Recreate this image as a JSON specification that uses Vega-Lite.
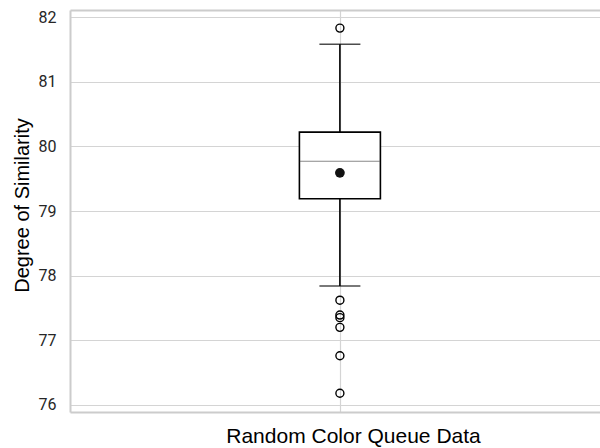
{
  "$schema": "https://vega.github.io/schema/vega-lite/v6.json",
  "autosize": {"type": "none"},
  "padding": {"left": 70, "top": 10, "right": 0, "bottom": 36},
  "width": 530,
  "height": 402,
  "background": "white",
  "config": {
    "view": {"stroke": null},
    "axis": {
      "gridColor": "#d4d4d4",
      "gridWidth": 1.2,
      "domainColor": "#cccccc",
      "domainWidth": 2,
      "ticks": false,
      "titleFont": "Liberation Sans",
      "titleFontWeight": "normal",
      "titleColor": "#000000",
      "labelFont": "Roboto",
      "labelFontSize": 16,
      "labelColor": "#262626"
    }
  },
  "datasets": {
    "summary": [
      {"group": "Random Color Queue Data", "lower": 77.84, "q1": 79.19, "median": 79.77, "q3": 80.22, "upper": 81.58, "mean": 79.59}
    ],
    "outliers": [
      {"group": "Random Color Queue Data", "value": 81.83},
      {"group": "Random Color Queue Data", "value": 77.62},
      {"group": "Random Color Queue Data", "value": 77.39},
      {"group": "Random Color Queue Data", "value": 77.35},
      {"group": "Random Color Queue Data", "value": 77.2},
      {"group": "Random Color Queue Data", "value": 76.76},
      {"group": "Random Color Queue Data", "value": 76.18}
    ]
  },
  "resolve": {"axis": {"x": "independent"}},
  "layer": [
    {
      "data": {"name": "summary"},
      "mark": {"type": "rule", "color": "#000000", "strokeWidth": 1.6},
      "encoding": {
        "x": {
          "datum": 0,
          "type": "quantitative",
          "scale": {"domain": [-1, 0.963], "nice": false, "zero": false},
          "axis": {"values": [0], "labels": false, "grid": true, "title": "Random Color Queue Data", "titleFontSize": 21, "titlePadding": 13, "titleX": 283}
        },
        "y": {
          "field": "lower",
          "type": "quantitative",
          "scale": {"domain": [75.89, 82.11], "nice": false, "zero": false},
          "axis": {"values": [76, 77, 78, 79, 80, 81, 82], "format": "d", "grid": true, "title": "Degree of Similarity", "titleFontSize": 20, "titleY": 195, "labelPadding": 14, "titlePadding": 6}
        },
        "y2": {"field": "upper"}
      }
    },
    {
      "data": {"name": "summary"},
      "mark": {"type": "bar", "size": 81, "fill": "#ffffff", "stroke": "#000000", "strokeWidth": 1.6},
      "encoding": {
        "x": {"datum": 0, "type": "quantitative", "axis": {"orient": "top", "values": [0], "labels": false, "grid": false, "title": null}},
        "y": {"field": "q1", "type": "quantitative"},
        "y2": {"field": "q3"}
      }
    },
    {
      "data": {"name": "summary"},
      "mark": {"type": "tick", "orient": "horizontal", "size": 80, "thickness": 1, "color": "#555555"},
      "encoding": {
        "x": {"datum": 0, "type": "quantitative", "axis": null},
        "y": {"field": "median", "type": "quantitative"}
      }
    },
    {
      "data": {"name": "summary"},
      "mark": {"type": "tick", "orient": "horizontal", "size": 41, "thickness": 1.6, "color": "#000000"},
      "encoding": {
        "x": {"datum": 0, "type": "quantitative", "axis": null},
        "y": {"field": "upper", "type": "quantitative"}
      }
    },
    {
      "data": {"name": "summary"},
      "mark": {"type": "tick", "orient": "horizontal", "size": 41, "thickness": 1.6, "color": "#000000"},
      "encoding": {
        "x": {"datum": 0, "type": "quantitative", "axis": null},
        "y": {"field": "lower", "type": "quantitative"}
      }
    },
    {
      "data": {"name": "outliers"},
      "mark": {"type": "point", "shape": "circle", "filled": false, "size": 64, "stroke": "#000000", "strokeWidth": 1.4, "opacity": 1},
      "encoding": {
        "x": {"datum": 0, "type": "quantitative", "axis": null},
        "y": {"field": "value", "type": "quantitative"}
      }
    },
    {
      "data": {"name": "summary"},
      "mark": {"type": "point", "shape": "circle", "filled": true, "size": 95, "color": "#111111", "opacity": 1},
      "encoding": {
        "x": {"datum": 0, "type": "quantitative", "axis": null},
        "y": {"field": "mean", "type": "quantitative"}
      }
    }
  ]
}
